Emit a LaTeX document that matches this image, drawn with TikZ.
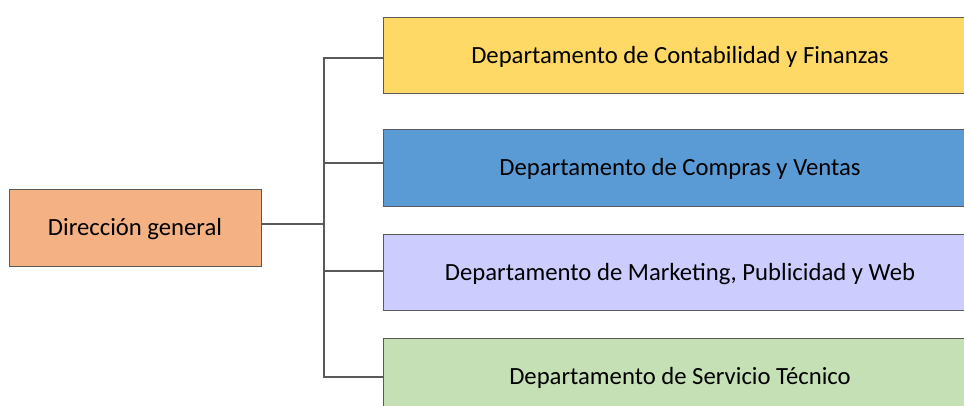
\documentclass[tikz,border=0pt]{standalone}
\usepackage{fontspec}
\setmainfont{Carlito}
\definecolor{cOrange}{HTML}{F4B183}
\definecolor{cYellow}{HTML}{FFD966}
\definecolor{cBlue}{HTML}{5B9BD5}
\definecolor{cLav}{HTML}{CCCCFF}
\definecolor{cGreen}{HTML}{C5E0B4}
\definecolor{cLine}{HTML}{595959}
\begin{document}
\begin{tikzpicture}[x=1pt,y=-1pt,
  box/.style={draw=cLine,line width=1.1pt,rectangle,anchor=north west,inner sep=0pt,font=\fontsize{24.7}{28}\selectfont},
  lbl/.style={font=\fontsize{24.7}{28}\selectfont},
  conn/.style={draw=cLine,line width=1.3pt}]
\useasboundingbox (0,0) rectangle (964,406);
\clip (0,0) rectangle (964,406);
\node[box,fill=cOrange,minimum width=252pt,minimum height=77pt] (dg) at (9,189) {};
\node[box,fill=cYellow,minimum width=600pt,minimum height=76pt] (d1) at (383,17) {};
\node[box,fill=cBlue,minimum width=600pt,minimum height=77pt] (d2) at (383,129) {};
\node[box,fill=cLav,minimum width=600pt,minimum height=76pt] (d3) at (383,234) {};
\node[box,fill=cGreen,minimum width=600pt,minimum height=76pt] (d4) at (383,338) {};
\node[lbl] (t0) at (135,229) {Dirección general};
\node[lbl] (t1) at (680,57) {Departamento de Contabilidad y Finanzas};
\node[lbl] (t2) at (680,169) {Departamento de Compras y Ventas};
\node[lbl] (t3) at (680,274) {Departamento de Marketing, Publicidad y Web};
\node[lbl] (t4) at (680,378) {Departamento de Servicio Técnico};
\coordinate (bus) at (324,224);
\draw[conn] (dg.east |- bus) -- (bus);
\draw[conn] (d1.west |- 0,58) -| (324,377) -- (d4.west |- 0,377);
\draw[conn] (324,163) -- (d2.west |- 0,163);
\draw[conn] (324,271) -- (d3.west |- 0,271);
\end{tikzpicture}
\end{document}
